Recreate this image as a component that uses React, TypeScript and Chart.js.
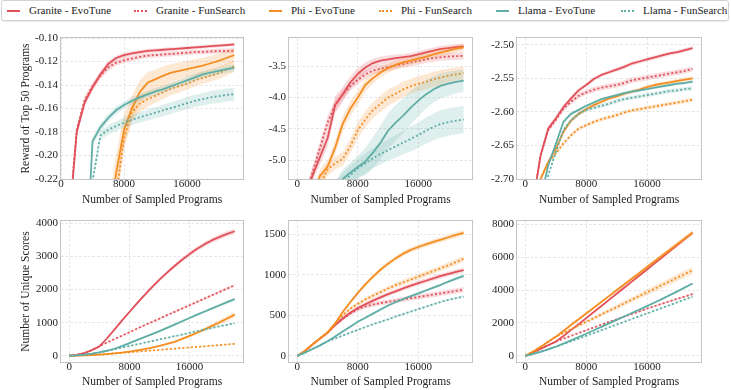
import React, { useEffect, useRef } from "react";
import { Chart, registerables } from "chart.js";

Chart.register(...registerables);

const FONT = '"Liberation Serif", "DejaVu Serif", "Times New Roman", serif';

// ---------- shared data ----------
const SAMPLES = [0, 1000, 2000, 3000, 4000, 5000, 6000, 7000, 8000, 9000, 10000, 11000, 12000, 13000, 14000, 15000, 16000, 17000, 18000, 19000, 20000, 21000, 22000];
const X_TICKS = [0, 8000, 16000];

const SERIES_NAMES = ["Granite - EvoTune", "Granite - FunSearch", "Phi - EvoTune", "Phi - FunSearch", "Llama - EvoTune", "Llama - FunSearch"];
const SERIES_COLORS = ["#E2505A", "#E2505A", "#F58E22", "#F58E22", "#5FAEA6", "#5FAEA6"];
const SERIES_DOTTED = [false, true, false, true, false, true];

// ---------- panel 1: reward (task A) ----------
const p1Ticks = [-0.22, -0.2, -0.18, -0.16, -0.14, -0.12, -0.1];
const p1GraniteEvo = [-0.45, -0.26, -0.18, -0.155, -0.142, -0.131, -0.122, -0.117, -0.1145, -0.113, -0.112, -0.111, -0.1105, -0.11, -0.1095, -0.109, -0.1085, -0.108, -0.1075, -0.107, -0.1065, -0.106, -0.1055];
const p1GraniteEvoBand = [0.004, 0.004, 0.004, 0.003, 0.003, 0.003, 0.0025, 0.002, 0.002, 0.002, 0.0018, 0.0018, 0.0016, 0.0016, 0.0016, 0.0015, 0.0015, 0.0015, 0.0015, 0.0015, 0.0015, 0.0015, 0.0015];
const p1GraniteFun = [-0.45, -0.255, -0.178, -0.153, -0.141, -0.132, -0.125, -0.121, -0.119, -0.1175, -0.116, -0.115, -0.1145, -0.114, -0.1135, -0.113, -0.1125, -0.112, -0.1118, -0.1115, -0.1112, -0.111, -0.1108];
const p1GraniteFunBand = [0.004, 0.004, 0.004, 0.0035, 0.003, 0.003, 0.003, 0.0025, 0.0025, 0.0022, 0.002, 0.002, 0.002, 0.002, 0.002, 0.002, 0.002, 0.002, 0.002, 0.002, 0.002, 0.002, 0.002];
const p1PhiEvo = [-0.6, -0.55, -0.5, -0.45, -0.4, -0.33, -0.26, -0.215, -0.178, -0.16, -0.146, -0.138, -0.135, -0.132, -0.1295, -0.128, -0.1265, -0.125, -0.1235, -0.1215, -0.1195, -0.117, -0.1145];
const p1PhiEvoBand = [0.02, 0.02, 0.02, 0.02, 0.02, 0.02, 0.018, 0.016, 0.013, 0.011, 0.01, 0.009, 0.008, 0.008, 0.0075, 0.007, 0.007, 0.007, 0.0065, 0.0065, 0.006, 0.006, 0.006];
const p1PhiFun = [-0.6, -0.55, -0.5, -0.45, -0.4, -0.35, -0.3, -0.235, -0.185, -0.163, -0.156, -0.152, -0.149, -0.146, -0.143, -0.141, -0.139, -0.136, -0.134, -0.132, -0.13, -0.127, -0.124];
const p1PhiFunBand = [0.015, 0.015, 0.015, 0.015, 0.015, 0.015, 0.014, 0.012, 0.01, 0.008, 0.007, 0.0065, 0.006, 0.006, 0.0055, 0.0055, 0.005, 0.005, 0.005, 0.005, 0.005, 0.005, 0.005];
const p1LlamaEvo = [-0.6, -0.5, -0.42, -0.32, -0.188, -0.176, -0.168, -0.1615, -0.157, -0.1535, -0.1505, -0.148, -0.1455, -0.1435, -0.141, -0.1385, -0.136, -0.1335, -0.131, -0.1295, -0.128, -0.1265, -0.1255];
const p1LlamaEvoBand = [0.004, 0.004, 0.004, 0.004, 0.004, 0.0035, 0.0035, 0.0033, 0.003, 0.003, 0.003, 0.003, 0.003, 0.003, 0.003, 0.003, 0.003, 0.003, 0.003, 0.003, 0.003, 0.003, 0.003];
const p1LlamaFun = [-0.6, -0.5, -0.42, -0.35, -0.222, -0.183, -0.178, -0.175, -0.172, -0.1695, -0.1675, -0.1655, -0.1635, -0.1615, -0.1595, -0.1575, -0.1555, -0.1535, -0.152, -0.1505, -0.1495, -0.1485, -0.1478];
const p1LlamaFunBand = [0.004, 0.004, 0.004, 0.004, 0.004, 0.004, 0.004, 0.0042, 0.0044, 0.0045, 0.0046, 0.0047, 0.0048, 0.005, 0.005, 0.005, 0.0052, 0.0053, 0.0054, 0.0055, 0.0055, 0.0055, 0.0055];

// ---------- panel 2: reward (task B) ----------
const p2Ticks = [-5.0, -4.5, -4.0, -3.5];
const p2GraniteEvo = [-6.0, -5.6, -5.25, -4.95, -4.65, -4.12, -3.95, -3.76, -3.62, -3.52, -3.45, -3.41, -3.39, -3.37, -3.355, -3.34, -3.31, -3.28, -3.25, -3.225, -3.21, -3.195, -3.185];
const p2GraniteEvoBand = [0.1, 0.1, 0.1, 0.12, 0.14, 0.14, 0.12, 0.1, 0.09, 0.08, 0.07, 0.065, 0.06, 0.055, 0.05, 0.05, 0.05, 0.05, 0.05, 0.05, 0.05, 0.05, 0.05];
const p2GraniteFun = [-6.0, -5.6, -5.2, -4.8, -4.4, -4.12, -3.95, -3.82, -3.72, -3.63, -3.57, -3.54, -3.515, -3.49, -3.465, -3.44, -3.415, -3.39, -3.37, -3.355, -3.345, -3.34, -3.335];
const p2GraniteFunBand = [0.1, 0.1, 0.1, 0.1, 0.1, 0.09, 0.08, 0.075, 0.07, 0.065, 0.06, 0.06, 0.06, 0.06, 0.06, 0.06, 0.06, 0.06, 0.06, 0.06, 0.06, 0.06, 0.06];
const p2PhiEvo = [-6.2, -5.9, -5.55, -5.25, -5.1, -4.8, -4.42, -4.18, -4.0, -3.8, -3.69, -3.6, -3.53, -3.48, -3.44, -3.41, -3.38, -3.35, -3.31, -3.28, -3.25, -3.22, -3.2];
const p2PhiEvoBand = [0.1, 0.1, 0.1, 0.1, 0.1, 0.11, 0.12, 0.12, 0.11, 0.1, 0.09, 0.08, 0.075, 0.07, 0.065, 0.06, 0.06, 0.06, 0.06, 0.06, 0.06, 0.06, 0.06];
const p2PhiFun = [-6.2, -6.0, -5.7, -5.4, -5.15, -5.05, -4.98, -4.78, -4.52, -4.35, -4.2, -4.1, -4.0, -3.94, -3.87, -3.82, -3.78, -3.75, -3.71, -3.68, -3.65, -3.63, -3.61];
const p2PhiFunBand = [0.1, 0.1, 0.1, 0.1, 0.1, 0.1, 0.11, 0.12, 0.13, 0.13, 0.13, 0.13, 0.13, 0.13, 0.12, 0.12, 0.12, 0.12, 0.12, 0.12, 0.11, 0.11, 0.11];
const p2LlamaEvo = [-6.5, -6.3, -6.1, -5.9, -5.7, -5.5, -5.3, -5.2, -5.11, -5.02, -4.88, -4.72, -4.53, -4.4, -4.29, -4.16, -4.05, -3.95, -3.87, -3.81, -3.78, -3.75, -3.73];
const p2LlamaEvoBand = [0.15, 0.15, 0.15, 0.15, 0.15, 0.15, 0.15, 0.16, 0.18, 0.22, 0.25, 0.27, 0.28, 0.28, 0.28, 0.27, 0.25, 0.23, 0.21, 0.2, 0.19, 0.18, 0.18];
const p2LlamaFun = [-6.5, -6.3, -6.1, -5.9, -5.7, -5.5, -5.35, -5.24, -5.13, -5.05, -4.97, -4.9, -4.84, -4.78, -4.72, -4.66, -4.6, -4.53, -4.47, -4.42, -4.39, -4.37, -4.35];
const p2LlamaFunBand = [0.15, 0.15, 0.15, 0.15, 0.15, 0.15, 0.15, 0.15, 0.15, 0.16, 0.16, 0.17, 0.17, 0.18, 0.19, 0.2, 0.2, 0.21, 0.21, 0.22, 0.22, 0.22, 0.22];

// ---------- panel 3: reward (task C) ----------
const p3Ticks = [-2.7, -2.65, -2.6, -2.55, -2.5];
const p3GraniteEvo = [-2.8, -2.735, -2.665, -2.625, -2.61, -2.593, -2.58, -2.568, -2.56, -2.551, -2.545, -2.541, -2.537, -2.533, -2.528, -2.525, -2.522, -2.519, -2.516, -2.513, -2.511, -2.508, -2.505];
const p3GraniteEvoBand = [0.004, 0.004, 0.004, 0.004, 0.003, 0.003, 0.003, 0.003, 0.003, 0.003, 0.003, 0.003, 0.003, 0.003, 0.003, 0.003, 0.003, 0.003, 0.003, 0.003, 0.003, 0.003, 0.003];
const p3GraniteFun = [-2.8, -2.735, -2.665, -2.627, -2.612, -2.595, -2.585, -2.576, -2.571, -2.567, -2.564, -2.562, -2.56, -2.557, -2.553, -2.551, -2.549, -2.547, -2.545, -2.543, -2.541, -2.539, -2.536];
const p3GraniteFunBand = [0.004, 0.004, 0.004, 0.004, 0.004, 0.004, 0.004, 0.004, 0.004, 0.004, 0.004, 0.004, 0.004, 0.004, 0.004, 0.004, 0.004, 0.004, 0.004, 0.004, 0.004, 0.004, 0.004];
const p3PhiEvo = [-2.78, -2.74, -2.7, -2.675, -2.655, -2.63, -2.613, -2.603, -2.596, -2.59, -2.585, -2.58, -2.577, -2.573, -2.57, -2.567, -2.563, -2.56, -2.558, -2.556, -2.554, -2.552, -2.55];
const p3PhiEvoBand = [0.003, 0.003, 0.003, 0.003, 0.003, 0.003, 0.003, 0.003, 0.003, 0.003, 0.003, 0.003, 0.003, 0.003, 0.003, 0.003, 0.003, 0.003, 0.003, 0.003, 0.003, 0.003, 0.003];
const p3PhiFun = [-2.78, -2.745, -2.7, -2.675, -2.662, -2.647, -2.635, -2.625, -2.62, -2.615, -2.611, -2.608, -2.605, -2.601, -2.598, -2.596, -2.594, -2.592, -2.59, -2.588, -2.586, -2.584, -2.582];
const p3PhiFunBand = [0.003, 0.003, 0.003, 0.003, 0.003, 0.003, 0.003, 0.003, 0.003, 0.003, 0.003, 0.003, 0.003, 0.003, 0.003, 0.003, 0.003, 0.003, 0.003, 0.003, 0.003, 0.003, 0.003];
const p3LlamaEvo = [-2.82, -2.79, -2.73, -2.68, -2.648, -2.615, -2.603, -2.597, -2.591, -2.586, -2.581, -2.578, -2.575, -2.572, -2.57, -2.568, -2.566, -2.564, -2.562, -2.56, -2.558, -2.557, -2.555];
const p3LlamaEvoBand = [0.002, 0.002, 0.002, 0.002, 0.002, 0.002, 0.002, 0.002, 0.002, 0.002, 0.002, 0.002, 0.002, 0.002, 0.002, 0.002, 0.002, 0.002, 0.002, 0.002, 0.002, 0.002, 0.002];
const p3LlamaFun = [-2.83, -2.8, -2.75, -2.695, -2.66, -2.627, -2.613, -2.603, -2.597, -2.594, -2.591, -2.588, -2.584, -2.581, -2.579, -2.577, -2.575, -2.573, -2.571, -2.569, -2.568, -2.566, -2.565];
const p3LlamaFunBand = [0.003, 0.003, 0.003, 0.003, 0.003, 0.003, 0.003, 0.003, 0.003, 0.003, 0.003, 0.003, 0.003, 0.003, 0.003, 0.003, 0.003, 0.003, 0.003, 0.003, 0.003, 0.003, 0.003];

// ---------- panel 4: unique scores (task A) ----------
const p4Ticks = [0, 1000, 2000, 3000, 4000];
const p4GraniteEvo = [0, 25, 80, 170, 280, 520, 790, 1060, 1320, 1580, 1830, 2070, 2300, 2510, 2710, 2900, 3070, 3230, 3370, 3490, 3590, 3680, 3760];
const p4GraniteEvoBand = [0, 5, 10, 15, 20, 25, 30, 35, 40, 45, 50, 55, 58, 60, 63, 66, 69, 72, 75, 77, 79, 80, 80];
const p4GraniteFun = [0, 25, 80, 170, 285, 395, 500, 605, 710, 815, 920, 1020, 1120, 1225, 1325, 1425, 1525, 1625, 1730, 1830, 1930, 2030, 2130];
const p4GraniteFunBand = [0, 5, 10, 12, 14, 16, 18, 20, 22, 24, 26, 28, 30, 31, 32, 33, 34, 35, 36, 37, 38, 39, 40];
const p4PhiEvo = [0, 5, 12, 22, 35, 50, 70, 95, 125, 160, 200, 245, 295, 355, 420, 510, 600, 695, 795, 900, 1010, 1125, 1240];
const p4PhiEvoBand = [0, 2, 3, 4, 5, 6, 8, 10, 12, 14, 16, 19, 22, 26, 30, 36, 42, 50, 58, 66, 74, 82, 90];
const p4PhiFun = [0, 5, 12, 22, 35, 52, 69, 87, 105, 123, 141, 159, 177, 195, 213, 231, 249, 267, 285, 303, 321, 340, 359];
const p4PhiFunBand = [0, 2, 3, 4, 5, 6, 7, 8, 9, 10, 11, 12, 13, 13, 14, 14, 15, 15, 16, 16, 17, 17, 18];
const p4LlamaEvo = [0, 10, 30, 60, 100, 150, 210, 290, 380, 470, 560, 650, 745, 840, 940, 1040, 1140, 1240, 1335, 1430, 1525, 1620, 1710];
const p4LlamaEvoBand = [0, 3, 5, 8, 10, 12, 15, 18, 20, 23, 25, 28, 30, 32, 34, 36, 38, 40, 42, 44, 46, 48, 50];
const p4LlamaFun = [0, 10, 30, 60, 100, 148, 197, 246, 295, 344, 393, 442, 491, 540, 590, 640, 690, 740, 790, 840, 890, 935, 980];
const p4LlamaFunBand = [0, 3, 5, 6, 8, 9, 10, 11, 12, 13, 14, 15, 16, 17, 18, 19, 20, 21, 22, 23, 24, 25, 25];

// ---------- panel 5: unique scores (task B) ----------
const p5Ticks = [0, 500, 1000, 1500];
const p5GraniteEvo = [0, 60, 140, 215, 285, 380, 460, 530, 590, 635, 680, 720, 760, 795, 830, 865, 895, 925, 955, 985, 1010, 1035, 1055];
const p5GraniteEvoBand = [0, 4, 8, 12, 15, 18, 20, 22, 23, 24, 25, 26, 27, 28, 28, 29, 29, 30, 30, 30, 30, 30, 30];
const p5GraniteFun = [0, 60, 140, 215, 285, 380, 455, 520, 575, 610, 632, 650, 665, 680, 695, 710, 725, 740, 755, 770, 785, 800, 815];
const p5GraniteFunBand = [0, 4, 8, 12, 15, 18, 20, 22, 24, 26, 27, 28, 29, 30, 30, 31, 31, 32, 32, 32, 33, 33, 33];
const p5PhiEvo = [0, 60, 140, 215, 290, 400, 540, 660, 775, 880, 975, 1060, 1135, 1200, 1258, 1305, 1340, 1372, 1402, 1432, 1460, 1488, 1515];
const p5PhiEvoBand = [0, 4, 8, 12, 15, 18, 20, 22, 24, 25, 26, 27, 28, 29, 30, 30, 31, 31, 32, 32, 32, 33, 33];
const p5PhiFun = [0, 60, 140, 215, 290, 400, 500, 580, 640, 695, 740, 785, 830, 870, 905, 940, 975, 1010, 1045, 1080, 1115, 1155, 1195];
const p5PhiFunBand = [0, 4, 8, 12, 15, 18, 20, 22, 24, 26, 28, 29, 30, 31, 32, 33, 34, 34, 35, 35, 36, 36, 36];
const p5LlamaEvo = [0, 40, 85, 130, 180, 240, 300, 360, 420, 470, 520, 570, 620, 660, 700, 735, 770, 805, 840, 875, 915, 950, 985];
const p5LlamaEvoBand = [0, 3, 5, 7, 9, 10, 11, 12, 13, 14, 15, 15, 16, 16, 17, 17, 18, 18, 18, 19, 19, 20, 20];
const p5LlamaFun = [0, 40, 85, 130, 180, 215, 250, 285, 320, 355, 390, 420, 450, 485, 515, 545, 575, 605, 635, 665, 690, 710, 730];
const p5LlamaFunBand = [0, 3, 5, 7, 8, 9, 9, 10, 10, 10, 11, 11, 11, 11, 12, 12, 12, 12, 12, 12, 12, 12, 12];

// ---------- panel 6: unique scores (task C) ----------
const p6Ticks = [0, 2000, 4000, 6000, 8000];
const p6GraniteEvo = [0, 200, 420, 640, 860, 1200, 1560, 1920, 2290, 2660, 3030, 3400, 3770, 4140, 4510, 4880, 5250, 5620, 5990, 6370, 6740, 7110, 7480];
const p6GraniteEvoBand = [0, 10, 15, 20, 25, 30, 35, 40, 45, 50, 55, 58, 60, 63, 66, 69, 72, 75, 78, 80, 82, 84, 85];
const p6GraniteFun = [0, 200, 420, 640, 860, 1040, 1210, 1380, 1550, 1720, 1890, 2060, 2220, 2380, 2540, 2700, 2860, 3020, 3170, 3320, 3470, 3610, 3750];
const p6GraniteFunBand = [0, 10, 15, 20, 25, 28, 30, 32, 34, 36, 38, 40, 42, 44, 46, 48, 50, 52, 54, 56, 58, 60, 60];
const p6PhiEvo = [0, 250, 540, 850, 1160, 1510, 1870, 2220, 2570, 2920, 3280, 3630, 3990, 4340, 4690, 5040, 5400, 5750, 6100, 6450, 6800, 7150, 7500];
const p6PhiEvoBand = [0, 10, 20, 30, 40, 50, 60, 70, 80, 88, 95, 100, 105, 110, 115, 120, 125, 130, 135, 140, 145, 150, 155];
const p6PhiFun = [0, 250, 540, 850, 1160, 1390, 1620, 1840, 2060, 2290, 2510, 2740, 2960, 3190, 3410, 3640, 3860, 4080, 4310, 4530, 4760, 4980, 5200];
const p6PhiFunBand = [0, 10, 20, 30, 40, 55, 70, 85, 100, 110, 120, 130, 140, 150, 160, 170, 180, 190, 200, 205, 210, 215, 220];
const p6LlamaEvo = [0, 110, 240, 390, 550, 740, 940, 1140, 1340, 1550, 1760, 1970, 2180, 2390, 2600, 2810, 3020, 3240, 3460, 3690, 3920, 4160, 4400];
const p6LlamaEvoBand = [0, 5, 8, 10, 12, 15, 18, 20, 22, 24, 26, 28, 30, 31, 32, 33, 34, 35, 36, 37, 38, 39, 40];
const p6LlamaFun = [0, 110, 240, 390, 550, 715, 880, 1045, 1215, 1385, 1555, 1725, 1895, 2065, 2235, 2405, 2575, 2745, 2915, 3085, 3255, 3425, 3590];
const p6LlamaFunBand = [0, 5, 8, 10, 12, 15, 18, 20, 22, 24, 26, 28, 30, 31, 32, 33, 34, 35, 36, 37, 38, 39, 40];

// ---------- panel layout / config ----------
const X_TITLE = "Number of Sampled Programs";

const PANELS = [
  { values: [p1GraniteEvo, p1GraniteFun, p1PhiEvo, p1PhiFun, p1LlamaEvo, p1LlamaFun], bands: [p1GraniteEvoBand, p1GraniteFunBand, p1PhiEvoBand, p1PhiFunBand, p1LlamaEvoBand, p1LlamaFunBand], yTicks: p1Ticks, yMin: -0.22, yMax: -0.1, dec: 2, xMin: 0, xMax: 23100, yTitle: "Reward of Top 50 Programs", left: 0, top: 28, width: 245, height: 179, yW: 61, xH: 28 },
  { values: [p2GraniteEvo, p2GraniteFun, p2PhiEvo, p2PhiFun, p2LlamaEvo, p2LlamaFun], bands: [p2GraniteEvoBand, p2GraniteFunBand, p2PhiEvoBand, p2PhiFunBand, p2LlamaEvoBand, p2LlamaFunBand], yTicks: p2Ticks, yMin: -5.3, yMax: -3.05, dec: 1, xMin: -1100, xMax: 23100, yTitle: "", left: 245, top: 28, width: 229, height: 179, yW: 44, xH: 28 },
  { values: [p3GraniteEvo, p3GraniteFun, p3PhiEvo, p3PhiFun, p3LlamaEvo, p3LlamaFun], bands: [p3GraniteEvoBand, p3GraniteFunBand, p3PhiEvoBand, p3PhiFunBand, p3LlamaEvoBand, p3LlamaFunBand], yTicks: p3Ticks, yMin: -2.7, yMax: -2.49, dec: 2, xMin: -1100, xMax: 23100, yTitle: "", left: 474, top: 28, width: 229, height: 179, yW: 43, xH: 28 },
  { values: [p4GraniteEvo, p4GraniteFun, p4PhiEvo, p4PhiFun, p4LlamaEvo, p4LlamaFun], bands: [p4GraniteEvoBand, p4GraniteFunBand, p4PhiEvoBand, p4PhiFunBand, p4LlamaEvoBand, p4LlamaFunBand], yTicks: p4Ticks, yMin: -190, yMax: 4070, dec: 0, xMin: -1100, xMax: 23100, yTitle: "Number of Unique Scores", left: 0, top: 211, width: 245, height: 178, yW: 61, xH: 27 },
  { values: [p5GraniteEvo, p5GraniteFun, p5PhiEvo, p5PhiFun, p5LlamaEvo, p5LlamaFun], bands: [p5GraniteEvoBand, p5GraniteFunBand, p5PhiEvoBand, p5PhiFunBand, p5LlamaEvoBand, p5LlamaFunBand], yTicks: p5Ticks, yMin: -75, yMax: 1660, dec: 0, xMin: -1100, xMax: 23100, yTitle: "", left: 245, top: 211, width: 229, height: 178, yW: 44, xH: 27 },
  { values: [p6GraniteEvo, p6GraniteFun, p6PhiEvo, p6PhiFun, p6LlamaEvo, p6LlamaFun], bands: [p6GraniteEvoBand, p6GraniteFunBand, p6PhiEvoBand, p6PhiFunBand, p6LlamaEvoBand, p6LlamaFunBand], yTicks: p6Ticks, yMin: -380, yMax: 8200, dec: 0, xMin: -1100, xMax: 23100, yTitle: "", left: 474, top: 211, width: 229, height: 178, yW: 43, xH: 27 },
];

const LEGEND_SWATCH_X = [6, 133, 268, 378, 495, 620];

function withAlpha(hex: string, a: number) {
  const r = parseInt(hex.slice(1, 3), 16);
  const g = parseInt(hex.slice(3, 5), 16);
  const b = parseInt(hex.slice(5, 7), 16);
  return `rgba(${r},${g},${b},${a})`;
}

const boxPlugin = {
  id: "plotBox",
  afterDatasetsDraw(chart: any) {
    const { ctx, chartArea: a } = chart;
    ctx.save();
    ctx.strokeStyle = "#c4c4c4";
    ctx.lineWidth = 1;
    ctx.strokeRect(a.left - 0.5, a.top - 0.5, a.right - a.left + 1, a.bottom - a.top + 1);
    ctx.restore();
  },
};

function buildDatasets(values: number[][], bands: number[][]) {
  const ds: any[] = [];
  values.forEach((vals, i) => {
    const color = SERIES_COLORS[i];
    const band = bands[i];
    const lower = SAMPLES.map((x, k) => ({ x, y: vals[k] - band[k] }));
    const upper = SAMPLES.map((x, k) => ({ x, y: vals[k] + band[k] }));
    const line = SAMPLES.map((x, k) => ({ x, y: vals[k] }));
    const base = ds.length;
    ds.push({ label: SERIES_NAMES[i] + " lo", data: lower, borderWidth: 0, pointRadius: 0, fill: false, backgroundColor: "rgba(0,0,0,0)", borderColor: "rgba(0,0,0,0)", order: 1000 - base, clip: 0 });
    ds.push({ label: SERIES_NAMES[i] + " hi", data: upper, borderWidth: 0, pointRadius: 0, fill: "-1", backgroundColor: withAlpha(color, 0.2), borderColor: "rgba(0,0,0,0)", order: 1000 - base - 1, clip: 0 });
    ds.push({
      label: SERIES_NAMES[i],
      data: line,
      borderColor: color,
      backgroundColor: color,
      borderWidth: 1.8,
      borderDash: SERIES_DOTTED[i] ? [2, 2.2] : [],
      borderCapStyle: "butt",
      borderJoinStyle: "round",
      pointRadius: 0,
      fill: false,
      order: 1000 - base - 2,
      clip: 0,
    });
  });
  return ds;
}

function Panel({ cfg }: { cfg: any }) {
  const ref = useRef<HTMLCanvasElement | null>(null);
  useEffect(() => {
    if (!ref.current) return;
    const tickFont = { family: FONT, size: 11, lineHeight: 1 };
    const titleFont = { family: FONT, size: 11.5, lineHeight: 1.2 };
    const gridOpts = { color: "#dedede", lineWidth: 0.8, drawTicks: false };
    const chart = new Chart(ref.current, {
      type: "line",
      data: { datasets: buildDatasets(cfg.values, cfg.bands) },
      options: {
        responsive: false,
        animation: false,
        devicePixelRatio: 1,
        layout: { padding: { top: 10, right: 2, left: 0, bottom: 0 } },
        plugins: { legend: { display: false }, tooltip: { enabled: false } },
        elements: { point: { radius: 0 }, line: { tension: 0 } },
        scales: {
          x: {
            type: "linear",
            min: cfg.xMin,
            max: cfg.xMax,
            afterBuildTicks: (ax: any) => {
              ax.ticks = X_TICKS.map((v) => ({ value: v }));
            },
            afterFit: (s: any) => {
              s.height = cfg.xH;
            },
            grid: gridOpts,
            border: { display: false, dash: [2.5, 2] },
            ticks: { font: tickFont, color: "#222", padding: 0, autoSkip: false, maxRotation: 0, callback: (v: any) => String(v) },
            title: { display: true, text: X_TITLE, font: titleFont, color: "#222", padding: { top: 0, bottom: 0 } },
          },
          y: {
            type: "linear",
            min: cfg.yMin,
            max: cfg.yMax,
            afterBuildTicks: (ax: any) => {
              ax.ticks = cfg.yTicks.map((v: number) => ({ value: v }));
            },
            afterFit: (s: any) => {
              s.width = cfg.yW;
            },
            grid: gridOpts,
            border: { display: false, dash: [2.5, 2] },
            ticks: { font: tickFont, color: "#222", padding: 3, autoSkip: false, callback: (v: any) => Number(v).toFixed(cfg.dec) },
            title: { display: !!cfg.yTitle, text: cfg.yTitle, font: titleFont, color: "#222", padding: { top: 19, bottom: 0 } },
          },
        },
      } as any,
      plugins: [boxPlugin],
    });
    return () => chart.destroy();
  }, [cfg]);
  return (
    <canvas
      ref={ref}
      width={cfg.width}
      height={cfg.height}
      style={{ position: "absolute", left: cfg.left, top: cfg.top, width: cfg.width, height: cfg.height, display: "block" }}
    />
  );
}

function Legend() {
  return (
    <div
      style={{
        position: "absolute",
        left: 1,
        top: 0,
        width: 728,
        height: 21,
        boxSizing: "border-box",
        border: "1px solid #d2d2d2",
        borderRadius: 3,
        boxShadow: "0 1px 1px rgba(0,0,0,0.08)",
        background: "#fff",
      }}
    >
      {SERIES_NAMES.map((name, i) => (
        <React.Fragment key={name}>
          <div
            style={{
              position: "absolute",
              left: LEGEND_SWATCH_X[i] - 1,
              top: 9,
              width: 13,
              height: 0,
              borderTop: `2px ${SERIES_DOTTED[i] ? "dotted" : "solid"} ${SERIES_COLORS[i]}`,
            }}
          />
          <div
            style={{
              position: "absolute",
              left: LEGEND_SWATCH_X[i] + 21,
              top: 0,
              height: 19,
              lineHeight: "19px",
              fontFamily: FONT,
              fontSize: 11,
              color: "#222",
              whiteSpace: "nowrap",
            }}
          >
            {name}
          </div>
        </React.Fragment>
      ))}
    </div>
  );
}

export default function App() {
  return (
    <div style={{ position: "fixed", left: 0, top: 0, width: 731, height: 390, background: "#fff", overflow: "hidden" }}>
      <Legend />
      {PANELS.map((cfg, i) => (
        <Panel key={i} cfg={cfg} />
      ))}
    </div>
  );
}
